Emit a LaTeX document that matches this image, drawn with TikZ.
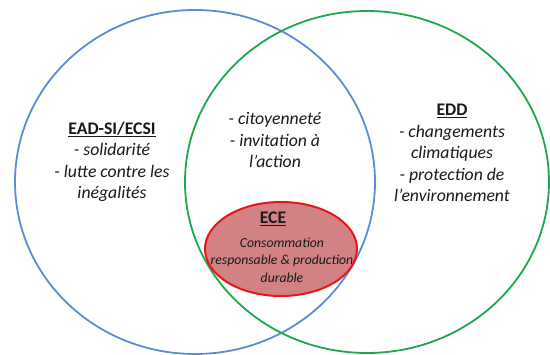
\documentclass[tikz,border=0pt]{standalone}
\usepackage{fontspec}
\setmainfont{Carlito}
\usetikzlibrary{positioning,shapes.geometric}

\definecolor{eadblue}{RGB}{91,141,212}
\definecolor{eddgreen}{RGB}{30,168,78}
\definecolor{eceline}{RGB}{232,22,22}
\definecolor{ecefill}{RGB}{210,130,130}

\tikzset{
  bigtext/.style={align=center,text=black!90,font=\fontsize{17.7}{21.5}\selectfont\itshape},
  smalltext/.style={align=center,text=black!90,font=\fontsize{13.7}{17.5}\selectfont\itshape},
  headtext/.style={text=black!90,font=\fontsize{17.7}{21}\selectfont\bfseries},
}

\begin{document}
\begin{tikzpicture}[x=1pt,y=-1pt]
\useasboundingbox (0,0) rectangle (550,355);

% the two big circles
\draw[eadblue,line width=1.8pt] (195,182) ellipse [x radius=180pt,y radius=172pt];
\draw[eddgreen,line width=1.8pt] (367,182) ellipse [x radius=182pt,y radius=171pt];

% ECE in the middle
\node[ellipse,draw=eceline,fill=ecefill,line width=2pt,
      minimum width=152pt,minimum height=94pt] (ece) at (281,249) {};

\node[bigtext] (ecsi) at (112,162)
  {\textup{\textbf{\underline{EAD-SI/ECSI}}}\\- solidarité\\- lutte contre les\\inégalités};
\node[bigtext] (both) at (275,140)
  {- citoyenneté\\- invitation à\\l’action};
\node[bigtext] (edd) at (452,153)
  {\textup{\textbf{\underline{EDD}}}\\- changements\\climatiques\\- protection de\\l’environnement};

\node[headtext] (ecehead) at (273,219) {\underline{ECE}};
\node[smalltext] (ecetext) at (282,260)
  {Consommation\\responsable \& production\\durable};

\end{tikzpicture}
\end{document}
